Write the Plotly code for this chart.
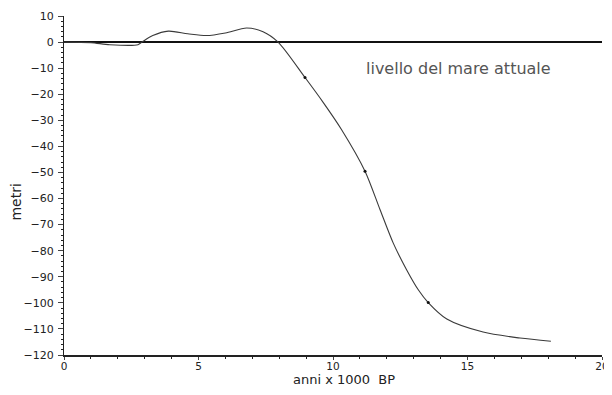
import plotly.graph_objects as go

# Data (thousands of years BP vs sea level in metres)
years = [0, 1.0, 1.7, 2.75, 2.9, 3.3, 3.88, 4.6, 5.3, 6.0, 6.79, 7.4, 7.96,
         8.96, 9.64, 10.32, 11.19, 11.75, 12.24, 12.74, 13.17, 13.54, 14.23,
         15.58, 16.95, 18.1]
levels = [0, -0.2, -1.0, -1.0, 0, 2.5, 4.2, 3.2, 2.5, 3.5, 5.4, 4.0, 0,
          -13.6, -23.2, -33.6, -49.5, -64.3, -77.1, -87.4, -95.0, -99.9, -106.2,
          -111.2, -113.5, -114.7]
dot_years = [8.96, 11.19, 13.54]
dot_levels = [-13.6, -49.5, -99.9]

x_ticks = [0, 5, 10, 15, 20]
y_ticks = list(range(-120, 11, 10))
x_title = "anni x 1000  BP"
y_title = "metri"
annotation_text = "livello del mare attuale"
annotation_pos = (14.65, -10)

FONT = "DejaVu Sans"

fig = go.Figure()
fig.add_trace(go.Scatter(x=years, y=levels, mode="lines",
                         line=dict(color="#3a3a3a", width=1.1, shape="spline", smoothing=0.8),
                         hoverinfo="skip", showlegend=False))
fig.add_trace(go.Scatter(x=dot_years, y=dot_levels, mode="markers",
                         marker=dict(color="#111111", size=3),
                         hoverinfo="skip", showlegend=False))

fig.add_annotation(x=annotation_pos[0], y=annotation_pos[1], text=annotation_text,
                   showarrow=False, font=dict(family=FONT, size=16, color="#555555"))
fig.add_annotation(xref="paper", yref="paper", x=0.52, y=-0.071, text=x_title,
                   showarrow=False, xanchor="center", yanchor="middle",
                   font=dict(family=FONT, size=13, color="#222222"))
fig.add_annotation(xref="paper", yref="paper", x=-0.089, y=0.45, text=y_title,
                   showarrow=False, xanchor="center", yanchor="middle", textangle=-90,
                   font=dict(family=FONT, size=14, color="#222222"))

# page body has an 8px default margin, so the figure is sized to fit the window
fig.update_layout(
    width=604, height=387,
    margin=dict(l=56, r=10, t=8, b=40),
    paper_bgcolor="white", plot_bgcolor="white",
    font=dict(family=FONT, size=10, color="#222222"),
    xaxis=dict(range=[0, 20], tickvals=x_ticks, ticks="outside", ticklen=3,
               ticklabelstandoff=-2, tickfont=dict(size=10.5),
               showline=True, linecolor="#222222", linewidth=1.5,
               showgrid=False, zeroline=False, automargin=False,
               minor=dict(dtick=1, ticks="outside", ticklen=2, tickcolor="#222222")),
    yaxis=dict(range=[-120, 10], tickvals=y_ticks, ticks="outside", ticklen=5,
               tickfont=dict(size=11), ticklabelstandoff=2,
               showline=True, linecolor="#222222", linewidth=1.2,
               showgrid=False, zeroline=True, zerolinecolor="#111111", zerolinewidth=1.8,
               automargin=False,
               minor=dict(dtick=2, ticks="outside", ticklen=2, tickcolor="#222222")),
)

fig.write_html("out.html")
